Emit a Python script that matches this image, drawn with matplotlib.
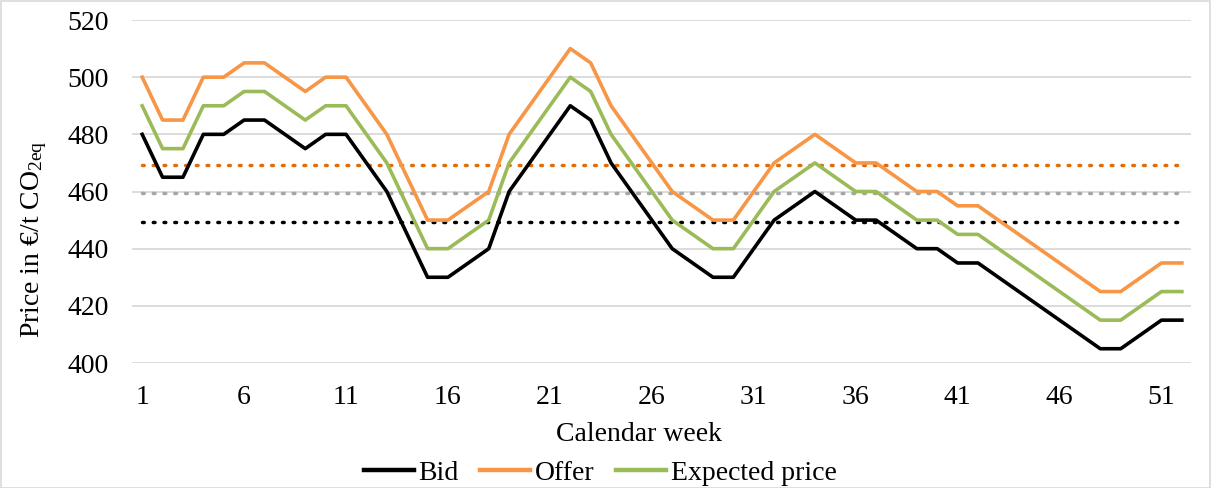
import numpy as np
import matplotlib
matplotlib.use("Agg")
import matplotlib.pyplot as plt
from matplotlib.patches import Rectangle

plt.rcParams['font.family'] = ['Liberation Serif', 'DejaVu Serif']

weeks = np.arange(1, 53)
bid = [480, 465, 465, 480, 480, 485, 485, 480, 475, 480,
       480, 470, 460, 445, 430, 430, 435, 440, 460, 470,
       480, 490, 485, 470, 460, 450, 440, 435, 430, 430,
       440, 450, 455, 460, 455, 450, 450, 445, 440, 440,
       435, 435, 430, 425, 420, 415, 410, 405, 405, 410,
       415, 415]
offer = [b + 20 for b in bid]
expected = [b + 10 for b in bid]
xtick_weeks = [1, 6, 11, 16, 21, 26, 31, 36, 41, 46, 51]

fig = plt.figure(figsize=(12.12, 4.88), dpi=100)
ax = fig.add_axes([0.1089, 0.2561, 0.8738, 0.7029])

# average lines (dotted)
dots = (0, (0.5, 2.6))
ax.plot([weeks[0], weeks[-1]], [np.mean(offer)] * 2, color='#E36C09', lw=2.5,
        linestyle=dots, dash_capstyle='round')
ax.plot([weeks[0], weeks[-1]], [np.mean(expected)] * 2, color='#A6A6A6', lw=2.5,
        linestyle=dots, dash_capstyle='round')
ax.plot([weeks[0], weeks[-1]], [np.mean(bid)] * 2, color='black', lw=2.5,
        linestyle=dots, dash_capstyle='round')

ax.plot(weeks, bid, color='black', lw=2.6, label='Bid')
ax.plot(weeks, offer, color='#F79646', lw=2.6, label='Offer')
ax.plot(weeks, expected, color='#9BBB59', lw=2.6, label='Expected price')

ax.set_xlim(0.5, 52.45)
ax.set_ylim(400, 520)
ax.set_yticks(range(400, 521, 20))
ax.set_xticks(xtick_weeks)
ax.grid(axis='y', color='#D9D9D9', lw=1.3)
ax.set_axisbelow(True)
for s in ax.spines.values():
    s.set_visible(False)
ax.tick_params(length=0, labelsize=20, pad=15.5)
ax.tick_params(axis='y', pad=17)

ax.set_xlabel('Calendar week', fontsize=20, labelpad=9)
ax.xaxis.label.set_x(0.479)
ax.set_ylabel(r'Price in €/t CO$\mathregular{_{2eq}}$', fontsize=20, labelpad=13)
ax.yaxis.label.set_y(0.36)

leg = ax.legend(loc='center', bbox_to_anchor=(0.442, -0.322), ncol=3, frameon=False,
                fontsize=20, handlelength=1.8, handletextpad=0.15, columnspacing=0.8,
                borderaxespad=0, borderpad=0)
for h in leg.get_lines():
    h.set_linewidth(3.2)

fig.patches.append(Rectangle((0.001, 0.001), 0.997, 0.997, transform=fig.transFigure,
                             fill=False, edgecolor='#D9D9D9', lw=1.2))

fig.savefig('out.png', dpi=100)
